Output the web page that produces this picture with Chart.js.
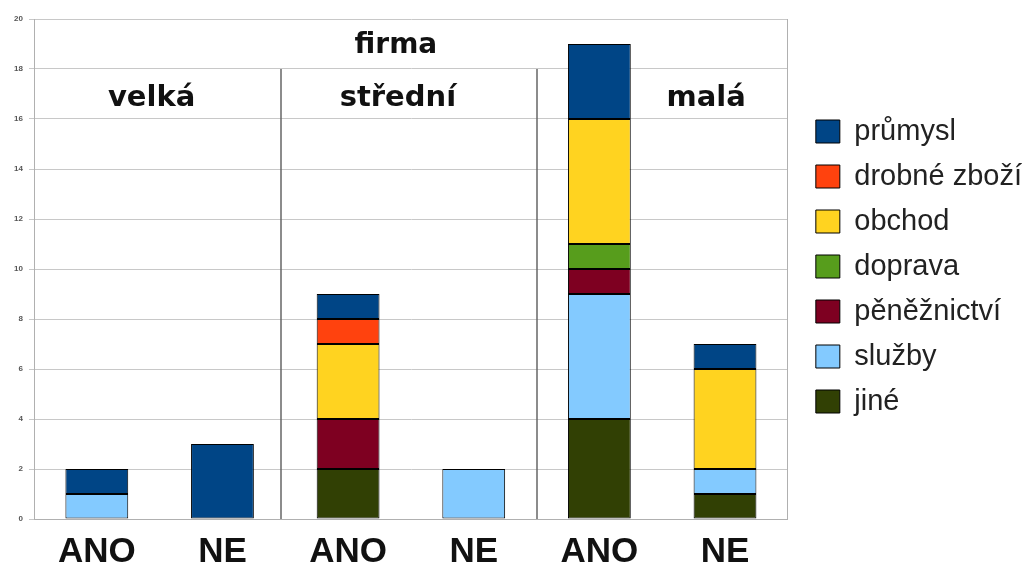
<!DOCTYPE html>
<html>
<head>
<meta charset="utf-8">
<script src="https://cdn.jsdelivr.net/npm/chart.js@4/dist/chart.umd.min.js"></script>
<style>
  html, body { margin: 0; padding: 0; background: #fff; }
  #wrap { width: 1028px; height: 567px; }
</style>
</head>
<body>
<div id="wrap"><canvas id="mainChart" width="1028" height="567"></canvas></div>
<script>
// kategorie na ose x
const categories = ['ANO', 'NE', 'ANO', 'NE', 'ANO', 'NE'];
// velikost firmy (po dvou sloupcích)
const groups = ['velká', 'střední', 'malá'];
const yTicks = [0, 2, 4, 6, 8, 10, 12, 14, 16, 18, 20];

// hodnoty řad, odspodu nahoru
const jine        = [0, 0, 2, 0, 4, 1];
const sluzby      = [1, 0, 0, 2, 5, 1];
const peneznictvi = [0, 0, 2, 0, 1, 0];
const doprava     = [0, 0, 0, 0, 1, 0];
const obchod      = [0, 0, 3, 0, 5, 4];
const drobneZbozi = [0, 0, 1, 0, 0, 0];
const prumysl     = [1, 3, 1, 0, 3, 1];

const series = [
    { label: 'jiné', data: jine, color: '#314004' },
    { label: 'služby', data: sluzby, color: '#83caff' },
    { label: 'pěněžnictví', data: peneznictvi, color: '#7e0021' },
    { label: 'doprava', data: doprava, color: '#579d1c' },
    { label: 'obchod', data: obchod, color: '#ffd320' },
    { label: 'drobné zboží', data: drobneZbozi, color: '#ff420e' },
    { label: 'průmysl', data: prumysl, color: '#004586' }
];

const LABEL_FONT = '"DejaVu Sans", Verdana, sans-serif';
const AXIS_FONT = '"Liberation Sans", Arial, sans-serif';

// popisky skupin (firma / velká / střední / malá) a svislé oddělovače
const groupPlugin = {
    id: 'groupLabels',
    beforeDatasetsDraw(chart) {
        const { ctx, scales: { x, y } } = chart;
        ctx.save();
        ctx.strokeStyle = '#666';
        ctx.lineWidth = 1.5;
        [[1, -4], [3, 0]].forEach(([i, dx]) => {
            const px = Math.round((x.getPixelForValue(i) + x.getPixelForValue(i + 1)) / 2) + dx;
            ctx.beginPath();
            ctx.moveTo(px, y.getPixelForValue(18));
            ctx.lineTo(px, y.getPixelForValue(0));
            ctx.stroke();
        });
        ctx.fillStyle = '#111';
        ctx.textAlign = 'center';
        ctx.textBaseline = 'alphabetic';
        ctx.font = 'bold 28px ' + LABEL_FONT;
        const mid = (x.getPixelForValue(2) + x.getPixelForValue(3)) / 2;
        ctx.fillText('firma', mid - 15, 53);
        ctx.font = 'bold 29px ' + LABEL_FONT;
        const shift = [-8, -13, 44];
        groups.forEach((g, i) => {
            const gx = (x.getPixelForValue(i * 2) + x.getPixelForValue(i * 2 + 1)) / 2;
            ctx.fillText(g, gx + shift[i], 106);
        });
        ctx.restore();
    }
};

new Chart(document.getElementById('mainChart').getContext('2d'), {
    type: 'bar',
    data: {
        labels: categories,
        datasets: series.map(s => ({
            label: s.label,
            data: s.data,
            backgroundColor: s.color,
            borderColor: '#000',
            borderWidth: 1,
            borderSkipped: false,
            barPercentage: 0.5,
            categoryPercentage: 1.0
        }))
    },
    options: {
        responsive: false,
        animation: false,
        layout: { padding: { top: 19, right: -4, left: 0, bottom: 0 } },
        plugins: {
            legend: {
                position: 'right',
                align: 'start',
                reverse: true,
                maxWidth: 260,
                title: { display: true, text: ' ', font: { size: 10 }, padding: { top: 70, bottom: 0 } },
                labels: {
                    boxWidth: 24,
                    boxHeight: 23,
                    padding: 16,
                    color: '#222',
                    font: { size: 29, family: AXIS_FONT }
                }
            },
            tooltip: { enabled: false }
        },
        scales: {
            x: {
                stacked: true,
                grid: { display: false },
                border: { color: '#b0b0b0' },
                afterFit: axis => { axis.height = 48; },
                ticks: {
                    color: '#111',
                    padding: 4,
                    font: { size: 35, weight: 'bold', family: AXIS_FONT }
                }
            },
            y: {
                stacked: true,
                min: 0,
                max: 20,
                afterBuildTicks: axis => { axis.ticks = yTicks.map(v => ({ value: v })); },
                afterFit: axis => { axis.width = 34; },
                grid: { color: '#c8c8c8', tickLength: 5 },
                border: { color: '#b0b0b0' },
                ticks: {
                    color: '#555',
                    padding: 6,
                    font: { size: 8, weight: 'bold', family: AXIS_FONT }
                }
            },
            // jen pravý okraj plochy grafu
            yRight: {
                position: 'right',
                min: 0,
                max: 20,
                grid: { display: false },
                border: { color: '#b0b0b0' },
                ticks: { display: false },
                afterFit: axis => { axis.width = 12; }
            }
        }
    },
    plugins: [groupPlugin]
});
</script>
</body>
</html>
